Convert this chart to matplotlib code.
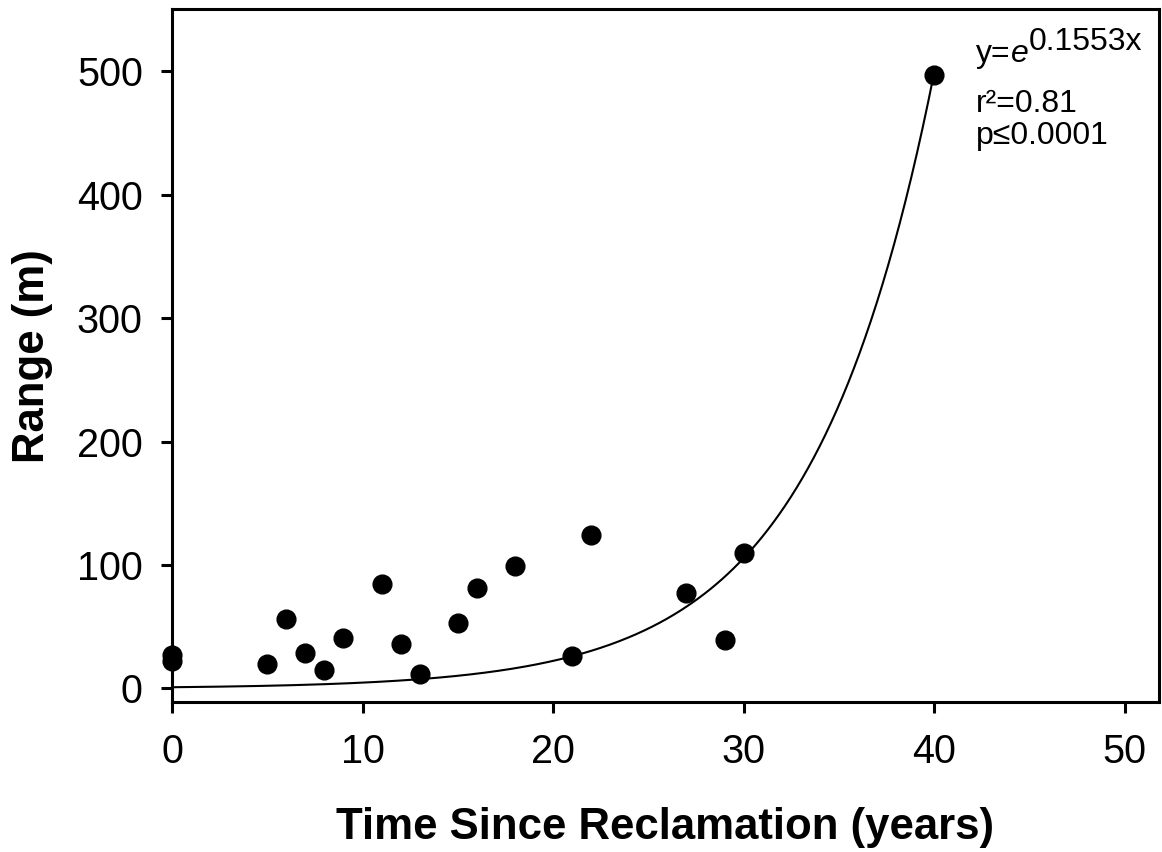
import numpy as np
import matplotlib
matplotlib.use("Agg")
import matplotlib.pyplot as plt

plt.rcParams['font.family'] = ['Liberation Sans', 'DejaVu Sans']

years = [0, 0, 5, 6, 7, 8, 9, 11, 12, 13, 15, 16, 18, 21, 22, 27, 29, 30, 40]
range_m = [27, 22, 20, 56, 29, 15, 41, 85, 36, 12, 53, 81, 99, 26, 124, 77, 39, 110, 497]
coef = 0.1553
xticks = [0, 10, 20, 30, 40, 50]
yticks = [0, 100, 200, 300, 400, 500]

fig = plt.figure(figsize=(11.62, 8.52), dpi=100)
ax = fig.add_axes([0.148, 0.176, 0.8494, 0.813])

xf = np.linspace(0, 40, 400)
ax.plot(xf, np.exp(coef * xf), color='black', lw=1.5, zorder=2)
ax.plot(years, range_m, 'o', color='black', ms=13.5, zorder=3, clip_on=False)

ax.set_xlim(0, 51.8)
ax.set_ylim(-11, 550)
ax.set_xticks(xticks)
ax.set_yticks(yticks)
for s in ax.spines.values():
    s.set_linewidth(2.2)
ax.tick_params(axis='both', direction='out', length=8, width=2.2, labelsize=28.5)
ax.tick_params(axis='x', pad=14)
ax.tick_params(axis='y', pad=13)

ax.set_xlabel('Time Since Reclamation (years)', fontsize=31.5, fontweight='bold', labelpad=26)
ax.set_ylabel('Range (m)', fontsize=31.5, fontweight='bold', labelpad=17)

fs = 23
t1 = ax.text(0.8145, 0.924, 'y=', transform=ax.transAxes, fontsize=fs, va='baseline', ha='left')
t2 = ax.annotate('e', xy=(1, 0), xycoords=t1, fontsize=fs, va='bottom', ha='left', style='italic')
ax.annotate('0.1553x', xy=(1, 0), xycoords=t2, xytext=(0, 9), textcoords='offset points',
            fontsize=fs, va='bottom', ha='left')
ax.text(0.8145, 0.852, 'r²=0.81', transform=ax.transAxes, fontsize=fs, va='baseline', ha='left')
ax.text(0.8145, 0.806, 'p≤0.0001', transform=ax.transAxes, fontsize=fs, va='baseline', ha='left')

fig.savefig('out.png', dpi=100)
